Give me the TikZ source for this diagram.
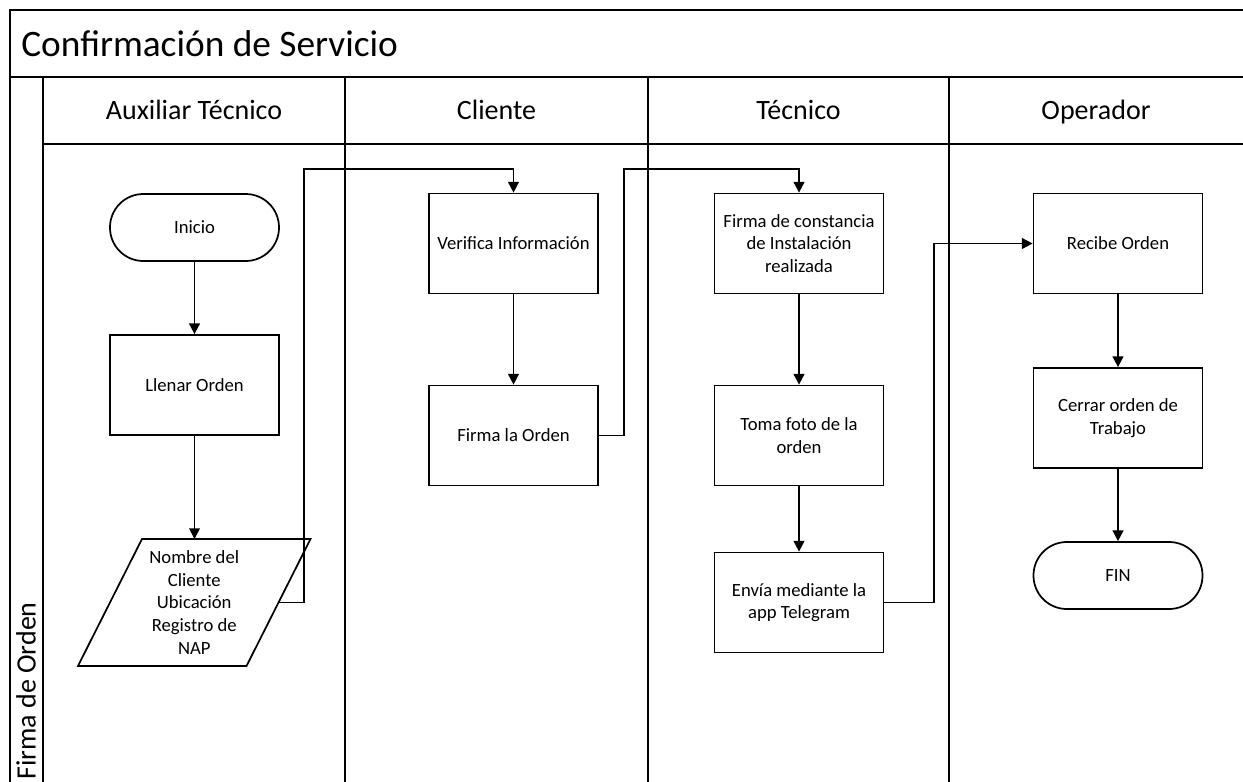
\documentclass[tikz,border=0pt]{standalone}
\usepackage{fontspec}
\setmainfont{Carlito}
\usetikzlibrary{arrows.meta,calc}

\begin{document}
\begin{tikzpicture}[x=0.75pt,y=-0.75pt,
  frame/.style={line width=1.7pt},
  proc/.style={draw, line width=1.3pt, rectangle, minimum width=126.75pt,
    minimum height=75pt, inner sep=2pt, align=center,
    font=\fontsize{14}{17}\selectfont},
  term/.style={proc, rounded corners=25pt, minimum height=50.25pt},
  flow/.style={line width=1.3pt, -{Triangle[length=8pt,width=8pt]}},
  lanehead/.style={font=\fontsize{21}{25}\selectfont},
]
\useasboundingbox (0,0) rectangle (1243,782);

% pool frame, title band, header row and lane dividers
\draw[frame] (1243,10) -- (10,10) -- (10,782);
\draw[frame] (10,77) -- (1243,77);
\draw[frame] (43,144) -- (1243,144);
\draw[frame] (43,77) -- (43,782);
\foreach \lx in {345,648,949} \draw[frame] (\lx,77) -- (\lx,782);

\node[anchor=west, inner sep=0, font=\fontsize{28}{34}\selectfont] (titulo) at (21,44) {Confirmación de Servicio};
\node[lanehead, anchor=base] (h1) at (194,119) {Auxiliar Técnico};
\node[lanehead, anchor=base] (h2) at (496.5,119) {Cliente};
\node[lanehead, anchor=base] (h3) at (798.5,119) {Técnico};
\node[lanehead, anchor=base] (h4) at (1096,119) {Operador};
\node[lanehead, rotate=90, anchor=west, inner sep=0] (fase) at (26,780) {Firma de Orden};

% Auxiliar Técnico
\node[term] (inicio) at (194.5,227.5) {Inicio};
\node[proc] (llenar) at (194.5,385) {Llenar Orden};
\node[proc, draw=none, outer sep=0, minimum width=126.4pt, minimum height=95.25pt] (datos) at (194.25,602.5)
  {Nombre del\\Cliente\\Ubicación\\Registro de\\NAP};
\draw[line width=1.3pt] ($(datos.north west)+(32,0)$) -- ($(datos.north east)+(32,0)$)
  -- ($(datos.south east)+(-32,0)$) -- ($(datos.south west)+(-32,0)$) -- cycle;

% Cliente
\node[proc] (verif) at (513.5,243.5) {Verifica Información};
\node[proc] (firma) at (513.5,435.5) {Firma la Orden};

% Técnico
\node[proc] (const) at (799,243.5) {Firma de constancia\\de Instalación\\realizada};
\node[proc] (foto) at (799,435.5) {Toma foto de la\\orden};
\node[proc] (envia) at (799,602.5) {Envía mediante la\\app Telegram};

% Operador
\node[proc] (recibe) at (1118,243.5) {Recibe Orden};
\node[proc] (cerrar) at (1118,418) {Cerrar orden de\\Trabajo};
\node[term] (fin) at (1118,575.5) {FIN};

% connectors
\draw[flow] (inicio.south) -- (llenar.north);
\draw[flow] (llenar.south) -- (llenar.south |- datos.north);
\draw[flow] (datos.east) -| (304,169) -| (verif.north);
\draw[flow] (verif.south) -- (firma.north);
\draw[flow] (firma.east) -| (624,169) -| (const.north);
\draw[flow] (const.south) -- (foto.north);
\draw[flow] (foto.south) -- (envia.north);
\draw[flow] (envia.east) -| (934,243.5) -- (recibe.west);
\draw[flow] (recibe.south) -- (cerrar.north);
\draw[flow] (cerrar.south) -- (fin.north);
\end{tikzpicture}
\end{document}
